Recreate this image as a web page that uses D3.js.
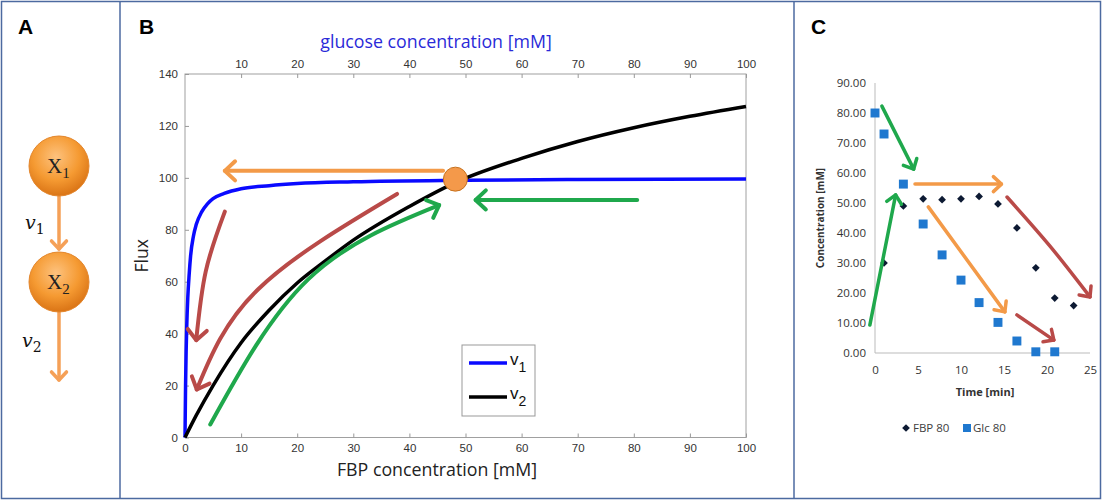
<!DOCTYPE html>
<html>
<head>
<meta charset="utf-8">
<script src="https://cdn.jsdelivr.net/npm/d3@7"></script>
<style>
  body { margin: 0; background: #fff; }
  svg { display: block; }
  .tick line { stroke: #999; }
  .tick text { fill: #333; }
</style>
</head>
<body>
<svg width="1102" height="500"></svg>
<script>
// ---- panel B: flux curves
const fbpTicks = [0, 10, 20, 30, 40, 50, 60, 70, 80, 90, 100];
const glcTicks = [10, 20, 30, 40, 50, 60, 70, 80, 90, 100];
const fluxTicks = [0, 20, 40, 60, 80, 100, 120, 140];

const v1Conc = [0, 0.1, 0.2, 0.3, 0.5, 0.75, 1, 1.5, 2, 3, 4, 5, 7, 10, 15, 20, 30, 50, 70, 100];
const v1Flux = [0, 20, 33, 42, 54, 63, 70, 77.5, 82, 87, 90, 92, 94, 95.8, 97, 97.8, 98.5, 99.1, 99.4, 99.6];

const v2Conc = [0, 2, 5, 10, 15, 20, 25, 30, 40, 48, 60, 70, 80, 90, 100];
const v2Flux = [0, 8.5, 20, 36.5, 49, 59.5, 68, 76, 89, 98, 107.5, 114, 119.3, 123.7, 127.5];

// ---- panel C: time course
const timeTicks = [0, 5, 10, 15, 20, 25];
const concTicks = [0, 10, 20, 30, 40, 50, 60, 70, 80, 90];
const glcTime = [0, 1.05, 3.3, 5.6, 7.8, 10, 12.1, 14.3, 16.5, 18.7, 20.9];
const glc80 = [80, 73, 56.3, 43, 32.7, 24.3, 16.8, 10.2, 4, 0.4, 0.4];
const fbpTime = [1.05, 3.3, 5.6, 7.8, 10, 12.1, 14.3, 16.5, 18.7, 20.9, 23.1];
const fbp80 = [30, 49, 51.4, 51.1, 51.4, 52.2, 49.7, 41.7, 28.4, 18.3, 15.8];

const ORANGE = '#f39a48', GREEN = '#1fa84c', RED = '#b94a48';

const svg = d3.select('svg');
const defs = svg.append('defs');

// frame of the whole figure
const frame = svg.append('g').attr('stroke', '#4c6aa0').attr('stroke-width', 1.5).attr('fill', 'none');
frame.append('rect').attr('x', 1.5).attr('y', 1.5).attr('width', 1099).attr('height', 497);
frame.append('line').attr('x1', 120).attr('x2', 120).attr('y1', 1.5).attr('y2', 498.5);
frame.append('line').attr('x1', 794).attr('x2', 794).attr('y1', 1.5).attr('y2', 498.5);

svg.selectAll('.panelLabel')
  .data([['A', 18], ['B', 139], ['C', 811]])
  .enter().append('text')
  .attr('x', d => d[1]).attr('y', 34)
  .attr('font-family', 'Liberation Sans, Arial, sans-serif')
  .attr('font-weight', 'bold').attr('font-size', 21)
  .text(d => d[0]);

// chevron head at the end of a path
function arrowHead(g, path, color, len, width) {
  const node = path.node();
  const L = node.getTotalLength();
  const tip = node.getPointAtLength(L);
  const back = node.getPointAtLength(Math.max(0, L - 8));
  const a = Math.atan2(tip.y - back.y, tip.x - back.x);
  const spread = 0.75;
  const p1 = [tip.x - len * Math.cos(a - spread), tip.y - len * Math.sin(a - spread)];
  const p2 = [tip.x - len * Math.cos(a + spread), tip.y - len * Math.sin(a + spread)];
  g.append('path')
    .attr('d', `M${p1}L${tip.x},${tip.y}L${p2}`)
    .attr('fill', 'none').attr('stroke', color)
    .attr('stroke-width', width).attr('stroke-linecap', 'round').attr('stroke-linejoin', 'round');
}

function arrow(g, pts, color, width, headLen, curve) {
  const p = g.append('path')
    .attr('d', d3.line().curve(curve || d3.curveLinear)(pts))
    .attr('fill', 'none').attr('stroke', color)
    .attr('stroke-width', width).attr('stroke-linecap', 'round');
  arrowHead(g, p, color, headLen, width);
}

// ---------------- panel A ----------------
const grad = defs.append('radialGradient').attr('id', 'ball')
  .attr('cx', '45%').attr('cy', '35%').attr('r', '70%');
grad.append('stop').attr('offset', '0%').attr('stop-color', '#fdc27e');
grad.append('stop').attr('offset', '55%').attr('stop-color', '#f59a32');
grad.append('stop').attr('offset', '100%').attr('stop-color', '#d56d10');

const gA = svg.append('g');
arrow(gA, [[59, 196], [59, 249]], '#f5a057', 3.5, 11);
arrow(gA, [[59, 311], [59, 380]], '#f5a057', 3.5, 11);

const species = [['X', '1', 166], ['X', '2', 282]];
species.forEach(s => {
  gA.append('circle').attr('cx', 59).attr('cy', s[2]).attr('r', 30)
    .attr('fill', 'url(#ball)').attr('stroke', '#e3862c').attr('stroke-width', 1);
  const t = gA.append('text').attr('x', 47).attr('y', s[2] + 7)
    .attr('font-family', 'Liberation Serif, serif').attr('font-size', 21).attr('fill', '#222');
  t.append('tspan').text(s[0]);
  t.append('tspan').attr('dy', 5).attr('font-size', 15).text(s[1]);
});

[['1', 25, 229], ['2', 22, 347]].forEach(r => {
  const t = gA.append('text').attr('x', r[1]).attr('y', r[2])
    .attr('font-family', 'DejaVu Serif, serif').attr('font-style', 'italic')
    .attr('font-size', 19).attr('fill', '#111');
  t.append('tspan').text('v');
  t.append('tspan').attr('dy', 5).attr('font-size', 14).attr('font-style', 'normal').text(r[0]);
});

// ---------------- panel B ----------------
const xB = d3.scaleLinear().domain([0, 100]).range([185, 746]);
const yB = d3.scaleLinear().domain([0, 140]).range([437.5, 74]);
const gB = svg.append('g');

gB.append('rect')
  .attr('x', xB(0)).attr('y', yB(140))
  .attr('width', xB(100) - xB(0)).attr('height', yB(0) - yB(140))
  .attr('fill', 'none').attr('stroke', '#a0a0a0').attr('stroke-width', 1);

const axFont = 'Liberation Sans, Arial, sans-serif';
const bottomAx = gB.append('g').attr('transform', `translate(0,${yB(0)})`)
  .call(d3.axisBottom(xB).tickValues(fbpTicks).tickSizeInner(-4).tickSizeOuter(0).tickPadding(6));
const topAx = gB.append('g').attr('transform', `translate(0,${yB(140)})`)
  .call(d3.axisTop(xB).tickValues(glcTicks).tickSizeInner(-4).tickSizeOuter(0).tickPadding(6));
const leftAx = gB.append('g').attr('transform', `translate(${xB(0)},0)`)
  .call(d3.axisLeft(yB).tickValues(fluxTicks).tickSizeInner(-4).tickSizeOuter(0).tickPadding(7));
[bottomAx, topAx, leftAx].forEach(a => {
  a.select('.domain').remove();
  a.selectAll('text').attr('font-family', axFont).attr('font-size', 11.5);
});

const titleFont = 'Open Sans, Liberation Sans, sans-serif';
gB.append('text').attr('x', 437).attr('y', 476).attr('text-anchor', 'middle')
  .attr('font-family', titleFont).attr('font-size', 17.8).attr('fill', '#222')
  .text('FBP concentration [mM]');
gB.append('text').attr('x', 436).attr('y', 48).attr('text-anchor', 'middle')
  .attr('font-family', titleFont).attr('font-size', 17.8).attr('fill', '#2a2ad8')
  .text('glucose concentration [mM]');
gB.append('text').attr('transform', `translate(148,${yB(70)}) rotate(-90)`)
  .attr('text-anchor', 'middle')
  .attr('font-family', titleFont).attr('font-size', 17.5).attr('fill', '#222')
  .text('Flux');

const lineB = d3.line().x(d => xB(d[0])).y(d => yB(d[1])).curve(d3.curveMonotoneX);
gB.append('path').datum(v1Conc.map((c, i) => [c, v1Flux[i]]))
  .attr('d', lineB).attr('fill', 'none').attr('stroke', '#0a0aff').attr('stroke-width', 3.5);
gB.append('path').datum(v2Conc.map((c, i) => [c, v2Flux[i]]))
  .attr('d', lineB).attr('fill', 'none').attr('stroke', '#000').attr('stroke-width', 3.5);

// annotation arrows, placed in data units
const pB = pts => pts.map(d => [xB(d[0]), yB(d[1])]);
arrow(gB, pB([[46, 102.7], [7.1, 102.7]]), ORANGE, 4, 14);
arrow(gB, pB([[80.6, 91.5], [51.8, 91.5]]), GREEN, 4, 14);
arrow(gB, pB([[4.5, 5], [22, 61], [45.3, 89.5]]), GREEN, 4, 14, d3.curveNatural);
arrow(gB, pB([[37.8, 93.8], [13, 57], [2.1, 18.5]]), RED, 4, 14, d3.curveNatural);
arrow(gB, pB([[7.1, 87], [3.7, 64], [2.0, 37.5]]), RED, 4, 14, d3.curveNatural);

gB.append('circle').attr('cx', xB(48.2)).attr('cy', yB(99.5)).attr('r', 12)
  .attr('fill', '#f4994a').attr('stroke', '#c7721f').attr('stroke-width', 1);

// legend
const lg = gB.append('g').attr('transform', 'translate(462,345)');
lg.append('rect').attr('width', 73).attr('height', 71)
  .attr('fill', '#fff').attr('stroke', '#999').attr('stroke-width', 1);
[['#0a0aff', '1', 18], ['#000', '2', 52]].forEach(r => {
  lg.append('line').attr('x1', 7).attr('x2', 45).attr('y1', r[2]).attr('y2', r[2])
    .attr('stroke', r[0]).attr('stroke-width', 3.5);
  const t = lg.append('text').attr('x', 48).attr('y', r[2] + 2)
    .attr('font-family', axFont).attr('font-size', 17).attr('fill', '#111');
  t.append('tspan').text('v');
  t.append('tspan').attr('dy', 7).attr('font-size', 14).text(r[1]);
});

// ---------------- panel C ----------------
const xC = d3.scaleLinear().domain([0, 25]).range([875, 1090]);
const yC = d3.scaleLinear().domain([0, 90]).range([353, 83]);
const gC = svg.append('g');
const cFont = 'Open Sans, Liberation Sans, sans-serif';

gC.append('line').attr('x1', xC(0)).attr('x2', xC(0)).attr('y1', yC(90)).attr('y2', yC(0))
  .attr('stroke', '#bbb').attr('stroke-width', 1);
gC.append('line').attr('x1', xC(0)).attr('x2', xC(25)).attr('y1', yC(0)).attr('y2', yC(0))
  .attr('stroke', '#bbb').attr('stroke-width', 1);

const cx = gC.append('g').attr('transform', `translate(0,${yC(0)})`)
  .call(d3.axisBottom(xC).tickValues(timeTicks).tickSize(0).tickPadding(13));
const cy = gC.append('g').attr('transform', `translate(${xC(0)},0)`)
  .call(d3.axisLeft(yC).tickValues(concTicks).tickFormat(d3.format('.2f')).tickSize(0).tickPadding(9));
[cx, cy].forEach(a => {
  a.select('.domain').remove();
  a.selectAll('text').attr('font-family', cFont).attr('font-size', 11.5).attr('fill', '#404040');
});

gC.append('text').attr('x', 985).attr('y', 396).attr('text-anchor', 'middle')
  .attr('font-family', cFont).attr('font-weight', 'bold').attr('font-size', 11).attr('fill', '#333')
  .text('Time [min]');
gC.append('text').attr('transform', `translate(824,${yC(45)}) rotate(-90)`)
  .attr('text-anchor', 'middle')
  .attr('font-family', cFont).attr('font-weight', 'bold').attr('font-size', 10).attr('fill', '#333')
  .text('Concentration [mM]');

const sq = d3.symbol(d3.symbolSquare, 80)();
const dia = d3.symbol(d3.symbolSquare, 30)();
gC.selectAll('.glc').data(glcTime).enter().append('path')
  .attr('d', sq).attr('fill', '#1f78cf')
  .attr('transform', (t, i) => `translate(${xC(t)},${yC(glc80[i])})`);
gC.selectAll('.fbp').data(fbpTime).enter().append('path')
  .attr('d', dia).attr('fill', '#0d1a33')
  .attr('transform', (t, i) => `translate(${xC(t)},${yC(fbp80[i])}) rotate(45)`);

const pC = pts => pts.map(d => [xC(d[0]), yC(d[1])]);
arrow(gC, pC([[0.8, 82.3], [4.5, 61.3]]), GREEN, 3.5, 11);
arrow(gC, pC([[-0.6, 9.3], [2.4, 52.7]]), GREEN, 3.5, 11);
arrow(gC, pC([[4.65, 56.3], [14.7, 56.3]]), ORANGE, 3.5, 11);
arrow(gC, pC([[6.2, 48.7], [15.1, 13.7]]), ORANGE, 3.5, 11);
arrow(gC, pC([[15.35, 52], [20.3, 35.8], [25, 18.7]]), RED, 3.5, 11, d3.curveNatural);
arrow(gC, pC([[16.5, 12.7], [20.8, 4.3]]), RED, 3.5, 11);

// legend
const lc = gC.append('g').attr('font-family', cFont).attr('font-size', 11.5).attr('fill', '#404040');
lc.append('path').attr('d', dia).attr('fill', '#0d1a33').attr('transform', 'translate(906,428) rotate(45)');
lc.append('text').attr('x', 913).attr('y', 432).text('FBP 80');
lc.append('path').attr('d', d3.symbol(d3.symbolSquare, 64)()).attr('fill', '#1f78cf').attr('transform', 'translate(967,428)');
lc.append('text').attr('x', 973).attr('y', 432).text('Glc 80');
</script>
</body>
</html>
